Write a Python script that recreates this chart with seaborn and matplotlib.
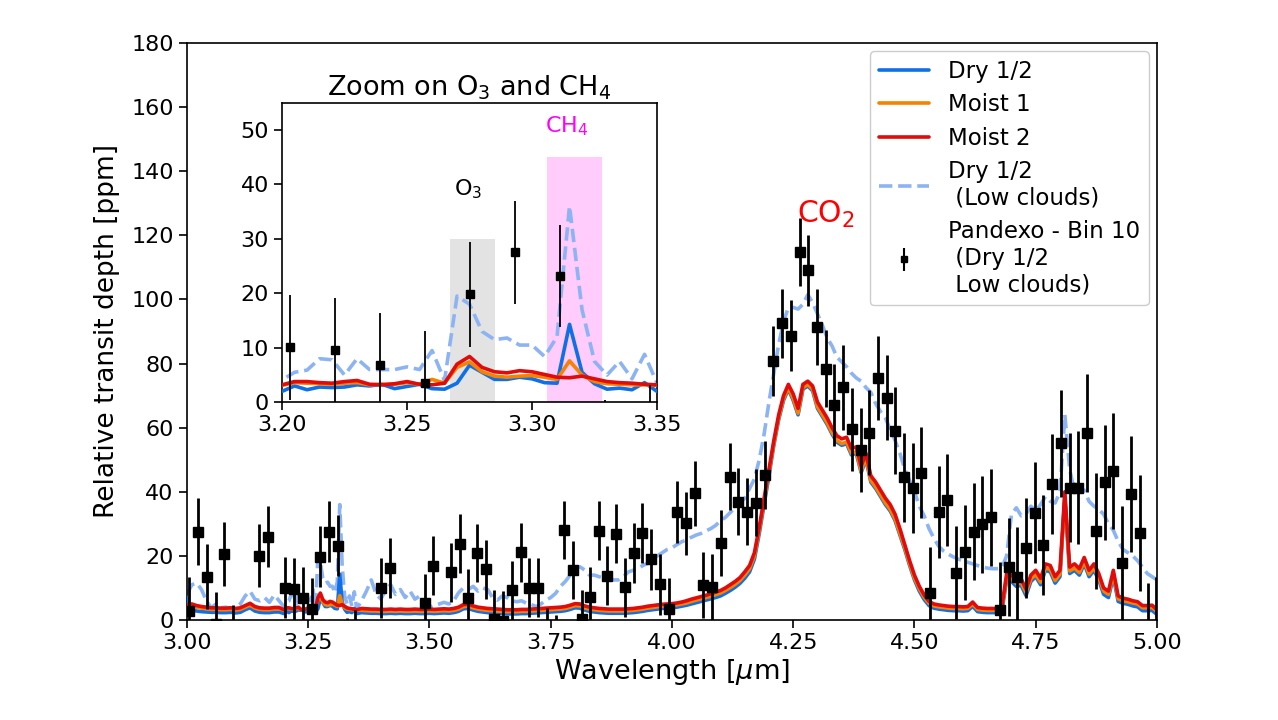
import numpy as np
import pandas as pd
import matplotlib
matplotlib.use("Agg")
import matplotlib.pyplot as plt
from matplotlib.lines import Line2D
import seaborn as sns

# ---------------- data ----------------
# wavelength sampling grid of the model spectra (finer inside the zoom window)
wl_grid = np.round(np.concatenate([np.arange(3.00, 3.195, 0.01),
                                   np.arange(3.200, 3.3525, 0.005),
                                   np.arange(3.36, 5.005, 0.01)]), 3)

moist2 = [4.7,5.0,4.5,4.2,4.0,3.8,3.8,3.7,3.7,3.8,3.6,3.8,4.5,5.2,4.2,3.8,3.7,3.7,3.9,3.9,
          3.2,3.8,3.8,3.6,3.5,3.8,4.0,3.3,3.2,3.4,3.8,3.3,3.2,3.5,7.0,8.4,6.4,5.6,5.4,5.8,5.6,5.1,4.6,4.5,4.8,4.3,3.8,3.6,3.5,3.3,3.2,
          3.6,3.5,3.4,3.4,3.3,3.3,3.4,3.3,3.4,3.3,
          3.3,3.4,3.3,3.3,3.4,3.3,3.4,3.5,3.4,3.6,
          4.0,4.8,4.9,4.4,4.0,3.8,3.6,3.5,3.4,3.3,
          3.2,3.2,3.2,3.3,3.3,3.4,3.5,3.6,3.7,3.8,
          3.9,4.0,4.2,4.6,5.1,5.0,4.4,4.0,3.8,3.6,
          3.5,3.4,3.4,3.4,3.4,3.5,3.6,3.8,4.0,4.3,
          4.5,4.7,4.9,5.0,5.1,5.3,5.6,6.0,6.5,6.9,
          7.3,7.7,8.2,8.7,9.2,10.0,11.0,12.0,13.2,15.0,
          17.0,21.0,29.0,38.0,47.0,56.0,64.0,70.0,73.5,70.5,
          66.0,73.5,74.5,73.0,68.0,65.5,63.0,60.0,57.5,56.5,
          57.0,53.5,54.0,48.0,52.0,45.0,43.0,40.5,38.0,36.0,
          33.0,28.5,23.5,18.5,14.0,10.5,7.8,5.8,5.0,4.7,
          4.5,4.3,4.2,4.2,4.1,4.2,5.6,3.9,3.7,3.6,
          3.6,3.6,3.8,14.5,14.0,12.5,12.8,9.6,14.0,15.5,
          13.0,17.5,17.0,13.5,15.5,40.0,16.5,17.5,16.0,19.5,
          15.5,17.5,14.5,10.0,9.0,15.5,7.5,6.8,6.5,6.0,
          5.7,4.5,4.5,4.6,3.2]

moist1 = [4.2,4.4,4.0,3.7,3.5,3.3,3.3,3.2,3.2,3.3,3.1,3.3,4.0,4.6,3.7,3.3,3.2,3.2,3.4,3.4,
          3.1,3.6,3.5,3.4,3.3,3.5,3.6,3.2,3.3,3.3,3.6,3.3,4.2,3.5,6.4,7.4,5.6,4.8,4.6,4.8,4.9,4.6,4.2,7.6,5.0,3.8,3.4,3.3,3.2,3.2,3.1,
          3.0,2.9,2.8,2.8,2.7,2.7,2.8,2.7,2.8,2.7,
          2.7,2.8,2.7,2.7,2.8,2.7,2.8,2.9,2.8,3.0,
          3.4,4.2,4.3,3.8,3.4,3.2,3.0,2.9,2.8,2.7,
          2.6,2.6,2.6,2.7,2.7,2.8,2.9,3.0,3.1,3.2,
          3.3,3.4,3.6,4.0,4.5,4.4,3.8,3.4,3.2,3.0,
          2.9,2.8,2.8,2.8,2.8,2.9,3.0,3.2,3.4,3.7,
          3.9,4.1,4.3,4.4,4.5,4.7,5.0,5.3,5.8,6.2,
          6.6,7.0,7.4,7.9,8.4,9.2,10.1,11.1,12.3,14.0,
          16.0,20.0,28.0,37.0,46.0,55.0,63.0,69.0,72.5,69.0,
          64.5,72.5,73.5,72.0,66.5,64.0,61.5,58.5,56.0,55.0,
          55.5,52.0,52.5,46.5,50.5,43.5,41.5,39.0,36.5,34.5,
          31.5,27.0,22.5,17.5,13.0,9.7,7.1,5.2,4.4,4.1,
          3.9,3.7,3.6,3.6,3.5,3.6,5.0,3.3,3.1,3.0,
          3.0,3.0,3.2,13.3,12.8,11.4,11.6,8.6,12.8,14.2,
          11.8,16.2,15.8,12.3,14.3,38.5,15.3,16.2,14.8,18.2,
          14.3,16.2,13.3,9.0,8.0,14.3,6.6,6.0,5.7,5.3,
          5.0,3.8,3.8,3.9,2.6]

dry = [7.0,3.0,2.8,2.6,2.5,2.4,2.4,2.3,2.3,2.4,2.2,2.4,3.2,3.8,2.8,2.4,2.3,2.3,2.5,2.5,
       2.0,3.0,2.3,2.8,2.7,2.8,3.2,3.0,3.3,2.5,2.9,3.3,2.5,2.4,3.5,6.8,5.5,4.2,4.2,4.6,4.3,3.6,3.5,14.3,5.5,3.4,2.4,2.6,2.3,3.6,2.0,
       2.3,2.2,2.1,2.1,2.0,2.0,2.1,2.0,2.1,2.0,
       2.0,2.1,2.0,2.0,2.1,2.0,2.1,2.2,2.1,2.3,
       2.7,3.5,3.6,3.1,2.7,2.5,2.3,2.2,2.1,2.0,
       1.9,1.9,1.9,2.0,2.0,2.1,2.2,2.3,2.4,2.5,
       2.6,2.7,2.9,3.3,3.8,3.7,3.1,2.7,2.5,2.3,
       2.2,2.1,2.1,2.1,2.1,2.2,2.3,2.5,2.7,3.0,
       3.2,3.4,3.6,3.7,3.8,4.0,4.3,4.6,5.0,5.4,
       5.8,6.2,6.6,7.0,7.5,8.3,9.2,10.2,11.4,13.0,
       15.0,19.0,27.0,36.0,45.0,54.5,62.5,68.5,72.0,68.5,
       64.0,72.0,73.0,71.5,66.0,63.5,61.0,58.0,55.5,54.5,
       55.0,51.5,52.0,46.0,50.0,43.0,41.0,38.5,36.0,34.0,
       31.0,26.5,22.0,17.0,12.5,9.0,6.4,4.5,3.7,3.4,
       3.2,3.0,2.9,2.9,2.8,2.9,4.3,2.6,2.4,2.3,
       2.3,2.3,2.5,12.5,12.0,10.5,10.8,7.6,12.0,13.5,
       11.0,15.5,15.0,11.5,13.5,38.0,14.5,15.5,14.0,17.5,
       13.5,15.5,12.5,8.0,7.0,13.5,5.8,5.2,4.9,4.4,
       4.1,2.9,2.9,3.0,1.7]

dry_lowclouds = [8.0,11.0,11.5,9.5,6.0,3.8,5.0,3.8,4.0,3.5,4.0,5.0,7.5,9.0,6.5,6.0,7.0,5.5,7.8,6.0,
                 4.1,5.5,5.9,8.0,7.8,5.0,8.0,6.0,6.0,6.0,6.5,6.0,9.5,4.0,19.5,18.0,13.0,11.5,11.8,10.5,10.5,8.4,12.0,36.0,17.0,7.5,5.0,7.5,4.3,8.8,3.5,
                 6.0,9.0,12.5,8.0,6.5,9.5,11.0,8.0,9.5,7.0,
                 9.0,6.5,7.5,5.5,4.0,4.5,5.0,5.5,5.0,6.0,
                 8.5,10.0,9.5,10.5,9.0,10.0,9.5,7.0,6.2,7.5,
                 7.0,6.0,5.7,6.0,5.2,4.8,4.2,5.0,6.2,7.0,
                 8.3,10.5,12.0,14.0,16.0,16.6,15.6,14.0,14.0,13.5,
                 13.0,13.0,12.5,12.5,13.5,15.0,15.5,16.0,17.0,17.7,
                 19.0,20.0,21.0,22.0,22.5,23.5,24.4,25.0,25.8,26.5,
                 27.0,27.8,28.5,29.5,31.0,32.0,33.5,35.0,36.5,38.0,
                 41.0,44.0,50.0,58.0,68.0,77.0,86.0,93.0,97.5,97.5,
                 97.0,98.5,101.5,99.0,95.5,92.0,88.0,85.5,82.0,80.5,
                 79.0,77.0,75.5,74.5,72.5,71.0,67.5,65.0,63.0,59.5,
                 56.0,52.0,47.0,43.5,40.0,35.5,32.5,28.5,25.5,23.0,
                 21.5,20.5,19.7,19.0,18.5,18.0,17.5,17.0,16.5,16.2,
                 16.0,16.0,16.2,20.0,33.0,35.0,32.5,33.0,35.5,34.0,
                 36.0,38.5,37.0,36.5,40.0,64.0,47.0,40.0,40.0,40.5,
                 37.0,35.5,34.5,33.0,30.0,28.0,24.5,22.0,21.0,20.0,
                 18.5,16.5,14.5,13.5,12.5]

# Pandexo simulated observation (bin 10)
obs_wl = [3.005,3.023,3.041,3.059,3.077,3.095,3.113,3.131,3.149,3.167,
          3.185,3.203,3.221,3.239,3.257,3.275,3.293,3.311,3.329,3.347,
          3.365,3.382,3.400,3.418,3.436,3.454,3.472,3.490,3.508,3.526,
          3.544,3.562,3.580,3.598,3.616,3.634,3.652,3.670,3.688,3.706,
          3.724,3.742,3.760,3.778,3.796,3.814,3.832,3.850,3.867,3.885,
          3.904,3.921,3.939,3.957,3.975,3.993,4.011,4.029,4.047,4.065,
          4.083,4.101,4.119,4.137,4.155,4.173,4.191,4.209,4.227,4.245,
          4.263,4.281,4.299,4.317,4.335,4.353,4.371,4.389,4.407,4.425,
          4.443,4.460,4.478,4.496,4.514,4.532,4.550,4.568,4.586,4.604,
          4.622,4.640,4.658,4.676,4.694,4.712,4.730,4.748,4.766,4.784,
          4.802,4.820,4.838,4.856,4.874,4.892,4.910,4.928,4.946,4.964,
          4.982,4.999]
obs_depth = [2.9,27.6,13.5,-1.2,20.6,-5.0,-13,-13,20.1,26.0,
             -13,10.1,9.6,6.8,3.5,19.8,27.5,23.2,-9.0,-6.4,
             -13,-13,9.9,16.3,-13,-13,-13,5.2,16.9,-13,
             14.9,23.8,6.8,20.9,15.8,0.3,-0.3,9.3,21.2,10.1,
             10.1,-5.5,-7.5,28.1,15.6,0.3,7.3,27.8,13.8,26.9,
             10.2,20.9,27.1,18.9,11.2,3.5,33.8,30.2,39.5,10.9,
             10.4,24.1,44.7,36.9,33.8,36.6,45.2,80.9,92.5,88.7,
             114.7,109.1,91.5,78.4,67.1,72.6,59.5,53.0,58.4,75.6,
             69.4,59.0,44.5,41.1,46.0,8.5,33.6,37.4,14.8,21.1,
             27.6,29.8,32.0,3.1,16.4,13.5,22.5,33.5,23.5,42.3,
             55.1,41.3,41.3,58.4,27.8,42.9,46.5,17.7,39.3,27.2,
             -6.0,-4.0]
obs_err = [10.5,10.5,10.2,10.0,10.0,9.8,9.8,9.7,9.7,9.6,
           9.6,9.6,9.6,9.6,9.5,9.6,9.5,9.4,9.5,9.5,
           9.4,9.4,9.3,9.3,9.3,9.3,9.3,9.2,9.2,9.2,
           9.2,9.2,9.2,9.2,9.2,9.2,9.2,9.2,9.2,9.2,
           9.2,9.2,9.2,9.0,9.0,9.1,9.2,9.2,9.2,9.2,
           9.2,9.3,9.3,9.4,9.5,9.6,9.7,9.8,10.2,10.2,
           10.3,10.3,10.4,10.4,10.5,10.5,10.6,10.9,10.9,11.0,
           10.6,11.0,11.8,12.0,12.8,13.2,13.0,13.2,13.2,13.1,
           13.4,13.6,13.8,14.0,14.2,14.4,14.4,14.4,14.6,14.8,
           15.2,15.2,15.1,15.1,15.3,15.5,15.7,15.7,15.6,15.6,
           16.7,17.0,17.7,18.4,18.0,18.0,18.0,18.0,18.0,18.0,
           17.5,17.5]

labels = ["Dry 1/2", "Moist 1", "Moist 2", "Dry 1/2\n (Low clouds)",
          "Pandexo - Bin 10\n (Dry 1/2\n Low clouds)"]
colors = {"dry": "#0f6fe6", "moist1": "#f58200", "moist2": "#e00b0b", "low": "#8cb4f4"}

# zoom window annotations
o3_band = [3.267, 3.285, 30.0]
ch4_band = [3.306, 3.328, 45.0]

# ---------------- figure ----------------
sns.set_theme(style="ticks")
plt.rcParams["font.family"] = ["DejaVu Sans"]
plt.rcParams["axes.edgecolor"] = "black"
plt.rcParams["xtick.color"] = "black"
plt.rcParams["ytick.color"] = "black"
plt.rcParams["text.color"] = "black"
plt.rcParams["axes.labelcolor"] = "black"

df = pd.DataFrame({"wl": wl_grid, "dry": dry, "moist1": moist1,
                   "moist2": moist2, "low": dry_lowclouds})

fig = plt.figure(figsize=(12.78, 7.2), dpi=100)
ax = fig.add_axes([0.1463, 0.1389, 0.7590, 0.8014])

LW = 2.6


def draw(a, lw, ms, elw):
    sns.lineplot(data=df, x="wl", y="low", ax=a, color=colors["low"], lw=lw,
                 linestyle="--", zorder=2, estimator=None, sort=False)
    sns.lineplot(data=df, x="wl", y="dry", ax=a, color=colors["dry"], lw=lw,
                 zorder=3, estimator=None, sort=False)
    sns.lineplot(data=df, x="wl", y="moist1", ax=a, color=colors["moist1"], lw=lw,
                 zorder=4, estimator=None, sort=False)
    sns.lineplot(data=df, x="wl", y="moist2", ax=a, color=colors["moist2"], lw=lw,
                 zorder=5, estimator=None, sort=False)
    a.errorbar(obs_wl, obs_depth, yerr=obs_err, fmt="s", color="black",
               ms=ms, elinewidth=elw, capsize=0, zorder=6)


draw(ax, LW, 6.5, 2.0)
ax.set_xlim(3.0, 5.0)
ax.set_ylim(0, 180)
ax.set_xticks([3.0, 3.25, 3.5, 3.75, 4.0, 4.25, 4.5, 4.75, 5.0])
ax.set_xticklabels(["3.00", "3.25", "3.50", "3.75", "4.00", "4.25", "4.50", "4.75", "5.00"])
ax.set_yticks(np.arange(0, 181, 20))
ax.tick_params(labelsize=16, length=6, width=1.2)
ax.set_xlabel("Wavelength [$\\mu$m]", fontsize=19.5, labelpad=3)
ax.set_ylabel("Relative transit depth [ppm]", fontsize=19, labelpad=8)
for s in ax.spines.values():
    s.set_visible(True)
    s.set_linewidth(1.2)

ax.text(4.317, 124, "CO$_2$", color="red", fontsize=21.5, ha="center", va="baseline")

handles = [Line2D([], [], color=colors["dry"], lw=LW),
           Line2D([], [], color=colors["moist1"], lw=LW),
           Line2D([], [], color=colors["moist2"], lw=LW),
           Line2D([], [], color=colors["low"], lw=LW, ls="--")]
eb = ax.errorbar([], [], yerr=[], fmt="s", color="black", ms=5, elinewidth=1.5)
handles.append(eb)
leg = ax.legend(handles, labels, loc="upper right", fontsize=16.5, frameon=True,
                handlelength=2.2, borderaxespad=0.35, labelspacing=0.45,
                fancybox=True, framealpha=1)
leg.get_frame().set_edgecolor("#cccccc")

# ---------------- inset ----------------
axin = fig.add_axes([0.2207, 0.4413, 0.2934, 0.4161])
axin.set_zorder(10)
axin.fill_between(o3_band[:2], 0, o3_band[2], color="#e3e3e3", zorder=1, lw=0)
axin.fill_between(ch4_band[:2], 0, ch4_band[2], color="#ffccfb", zorder=1, lw=0)
draw(axin, LW, 5.2, 1.3)
axin.set_xlim(3.20, 3.35)
axin.set_ylim(0, 55)
axin.set_xticks([3.20, 3.25, 3.30, 3.35])
axin.set_xticklabels(["3.20", "3.25", "3.30", "3.35"])
axin.set_yticks([0, 10, 20, 30, 40, 50])
axin.tick_params(labelsize=16, length=6, width=1.2)
axin.set_xlabel("")
axin.set_ylabel("")
axin.set_facecolor("white")
for s in axin.spines.values():
    s.set_visible(True)
    s.set_linewidth(1.2)
axin.set_title("Zoom on O$_3$ and CH$_4$", fontsize=19.5, pad=5)
axin.text(3.2745, 38, "O$_3$", fontsize=16, ha="center", va="baseline")
axin.text(3.314, 49.5, "CH$_4$", fontsize=16, color="#ff00ff", ha="center", va="baseline")

fig.savefig("out.png", dpi=100)
